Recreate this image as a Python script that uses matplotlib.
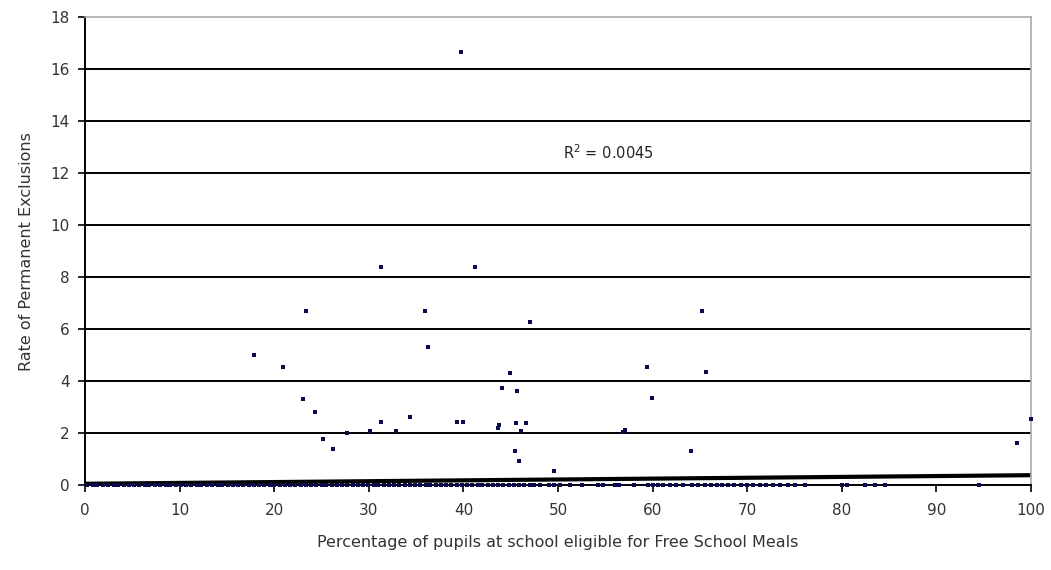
"""
Scatter of permanent exclusion rate against % pupils eligible for FSM,
with a linear trendline and its R^2.
"""

import matplotlib
matplotlib.use("Agg")
import matplotlib.pyplot as plt
import numpy as np

# ---------------------------------------------------------------------------
# Data
# ---------------------------------------------------------------------------

# schools with at least one permanent exclusion
fsm_pct = [
    17.8, 20.9, 23.0, 23.3, 24.3, 25.1, 26.2, 27.7, 30.1, 31.3,
    31.3, 32.9, 34.3, 35.9, 36.3, 39.3, 39.7, 40.0, 41.2, 43.6,
    43.8, 44.1, 44.9, 45.4, 45.5, 45.7, 45.9, 46.1, 46.6, 47.0,
    49.6, 56.9, 57.1, 59.4, 59.9, 64.1, 65.2, 65.6, 98.5, 100.0,
]
excl_rate = [
    5.0, 4.54, 3.3, 6.7, 2.8, 1.77, 1.38, 2.0, 2.08, 8.38,
    2.42, 2.08, 2.6, 6.7, 5.3, 2.42, 16.65, 2.42, 8.38, 2.2,
    2.3, 3.72, 4.3, 1.3, 2.38, 3.6, 0.92, 2.08, 2.38, 6.27,
    0.54, 2.05, 2.1, 4.54, 3.35, 1.3, 6.7, 4.35, 1.6, 2.55,
]

# schools with no permanent exclusions (rate = 0)
fsm_zero = [
    0.2, 0.8, 1.3, 1.9, 2.4, 3.0, 3.5, 4.1, 4.6, 5.2,
    5.7, 6.3, 6.8, 7.4, 7.9, 8.5, 9.0, 9.6, 10.1, 10.7,
    11.2, 11.8, 12.3, 12.9, 13.4, 14.0, 14.5, 15.1, 15.6, 16.2,
    16.7, 17.3, 17.8, 18.4, 18.9, 19.5, 20.0, 20.6, 21.1, 21.7,
    22.2, 22.8, 23.3, 23.9, 24.4, 25.0, 25.5, 26.1, 26.6, 27.2,
    27.7, 28.3, 28.8, 29.4, 29.9, 30.5, 31.0, 31.6, 32.1, 32.7,
    33.2, 33.8, 34.3, 34.9, 35.4, 36.0, 36.5, 37.1, 37.6, 38.2,
    38.7, 39.3, 39.8, 40.4, 40.9, 41.5, 42.0, 42.6, 43.1, 43.7,
    44.2, 44.8, 45.3, 45.9, 46.4, 47.0, 47.5, 48.1,
    49.0, 49.6, 50.2, 51.3, 52.5, 54.2, 54.8, 56.0, 56.4, 58.0,
    59.5, 60.0, 60.6, 61.1, 61.8, 62.5, 63.2, 64.2, 64.8, 65.5,
    66.2, 66.8, 67.3, 68.0, 68.6, 69.3, 70.0, 70.6, 71.3, 72.0,
    72.7, 73.5, 74.3, 75.0, 76.1, 80.0, 80.5, 82.5, 83.5, 84.6,
    94.5,
]
rate_zero = [0.0] * len(fsm_zero)

# linear trendline y = a + b*x and its R^2
trend_intercept = 0.05
trend_slope = 0.0033
r_squared = "0.0045"

x_ticks = [0, 10, 20, 30, 40, 50, 60, 70, 80, 90, 100]
y_ticks = [0, 2, 4, 6, 8, 10, 12, 14, 16, 18]

# ---------------------------------------------------------------------------
# Plot
# ---------------------------------------------------------------------------

MARK = "#0b0b50"
TEXT = "#333333"

fig = plt.figure(figsize=(10.51, 5.70), dpi=100)
ax = fig.add_axes([0.081, 0.149, 0.900, 0.821])

for yv in y_ticks[1:-1]:
    ax.axhline(yv, color="black", lw=1.4, zorder=1)

trend_x = np.array([0, 100])
ax.plot(trend_x, trend_intercept + trend_slope * trend_x,
        color="black", lw=3.0, solid_capstyle="butt", zorder=2)

ax.scatter(fsm_zero, rate_zero, marker="s", s=5, color=MARK,
           linewidths=0, zorder=3, clip_on=False)
ax.scatter(fsm_pct, excl_rate, marker="s", s=6, color=MARK,
           linewidths=0, zorder=3, clip_on=False)

ax.text(50.5, 12.8, r"R$^2$ = " + r_squared, fontsize=10.5,
        color="#222222", va="center", ha="left")

ax.set_xlim(0, 100)
ax.set_ylim(0, 18)
ax.set_xticks(x_ticks)
ax.set_yticks(y_ticks)
ax.tick_params(axis="both", direction="out", length=5, width=1.2,
               colors="black", labelcolor=TEXT, labelsize=11)
ax.tick_params(axis="x", pad=8)
ax.tick_params(axis="y", pad=6)

for side in ("top", "right"):
    ax.spines[side].set_color("#aaaaaa")
    ax.spines[side].set_linewidth(1.2)
for side in ("left", "bottom"):
    ax.spines[side].set_color("black")
    ax.spines[side].set_linewidth(1.4)

ax.set_xlabel("Percentage of pupils at school eligible for Free School Meals",
              fontsize=11.5, color=TEXT, labelpad=12)
ax.set_ylabel("Rate of Permanent Exclusions", fontsize=11.5, color=TEXT,
              labelpad=12)

fig.savefig("out.png", dpi=100)
plt.close(fig)
